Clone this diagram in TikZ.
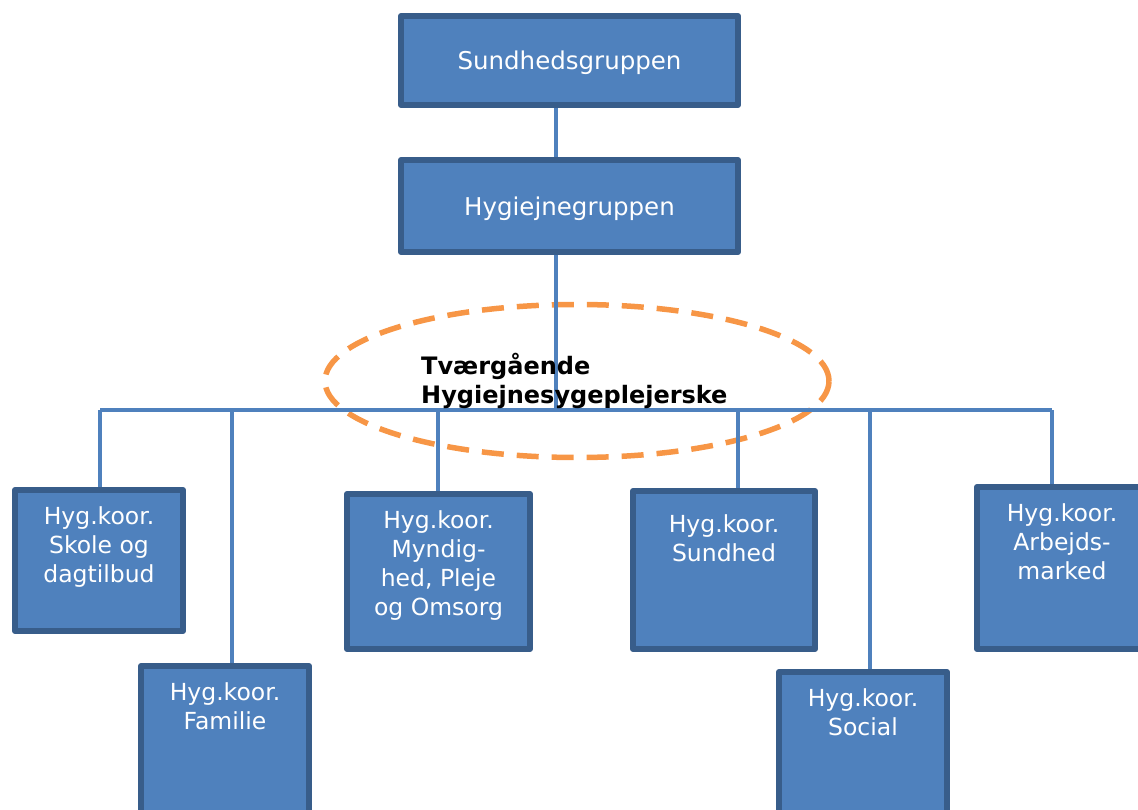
\documentclass[tikz,border=0pt]{standalone}
\usepackage{fontspec}
\setmainfont{DejaVu Sans}
\usetikzlibrary{calc,shapes.geometric}
\definecolor{boxfill}{HTML}{4F81BD}
\definecolor{boxedge}{HTML}{385D8A}
\definecolor{linkc}{HTML}{4F81BD}
\definecolor{ovalc}{HTML}{F79646}
\begin{document}
\begin{tikzpicture}[x=1pt,y=-1pt,
  orgbox/.style={draw=boxedge,fill=boxfill,line width=6pt,line join=round,inner sep=0pt},
  toptxt/.style={text=white,font=\fontsize{24.5}{29}\selectfont,inner sep=0pt,align=center},
  subtxt/.style={text=white,font=\fontsize{23.5}{29}\selectfont,inner sep=0pt,align=center,anchor=north},
  link/.style={draw=linkc,line width=3.5pt},
  oval/.style={draw=ovalc,line width=5.5pt,dash pattern=on 22pt off 13pt},
  ovaltxt/.style={font=\bfseries\fontsize{24}{29}\selectfont,inner sep=0pt,align=left,anchor=west}]
\useasboundingbox (0,0) rectangle (1138,810);
% oval
\node[oval,ellipse,minimum width=504pt,minimum height=153pt,inner sep=0pt] (ov) at (577,381) {};
% coordinates for connectors
\coordinate (bus) at (556,410);
\coordinate (busL) at (100,410);
\coordinate (busR) at (1052,410);
\coordinate (d1) at (100,410);
\coordinate (d2) at (232,410);
\coordinate (d3) at (438,410);
\coordinate (d4) at (738,410);
\coordinate (d5) at (870,410);
\coordinate (d6) at (1052,410);
% boxes
\node[orgbox,minimum width=337,minimum height=89] (s) at (569.5,60.5) {};
\node[orgbox,minimum width=337,minimum height=92] (h) at (569.5,206) {};
\node[orgbox,minimum width=168,minimum height=141] (b1) at (99,560.5) {};
\node[orgbox,minimum width=168,minimum height=160] (b2) at (225,746) {};
\node[orgbox,minimum width=183,minimum height=155] (b3) at (438.5,571.5) {};
\node[orgbox,minimum width=182,minimum height=158] (b4) at (724,570) {};
\node[orgbox,minimum width=168,minimum height=155] (b5) at (863,749.5) {};
\node[orgbox,minimum width=170,minimum height=162] (b6) at (1062,568) {};
% connectors
\draw[link] (s.south -| bus) -- (h.north -| bus);
\draw[link] (h.south -| bus) -- (bus);
\draw[link] (busL) -- (busR);
\draw[link] (d1) -- (d1 |- b1.north);
\draw[link] (d2) -- (d2 |- b2.north);
\draw[link] (d3) -- (d3 |- b3.north);
\draw[link] (d4) -- (d4 |- b4.north);
\draw[link] (d5) -- (d5 |- b5.north);
\draw[link] (d6) -- (d6 |- b6.north);
% texts
\node[toptxt] (ts) at ($(s.center)+(0,2)$) {Sundhedsgruppen};
\node[toptxt] (th) at ($(h.center)+(0,3)$) {Hygiejnegruppen};
\node[subtxt] (t1) at ($(b1.north)+(0,19)$) {Hyg.koor.\\Skole og\\dagtilbud};
\node[subtxt] (t2) at ($(b2.north)+(0,19)$) {Hyg.koor.\\Familie};
\node[subtxt] (t3) at ($(b3.north)+(0,19)$) {Hyg.koor.\\Myndig-\\hed, Pleje\\og Omsorg};
\node[subtxt] (t4) at ($(b4.north)+(0,26)$) {Hyg.koor.\\Sundhed};
\node[subtxt] (t5) at ($(b5.north)+(0,19)$) {Hyg.koor.\\Social};
\node[subtxt] (t6) at ($(b6.north)+(0,19)$) {Hyg.koor.\\Arbejds-\\marked};
\node[ovaltxt] (tv) at (421,381) {Tværgående\\Hygiejnesygeplejerske};
\end{tikzpicture}
\end{document}
